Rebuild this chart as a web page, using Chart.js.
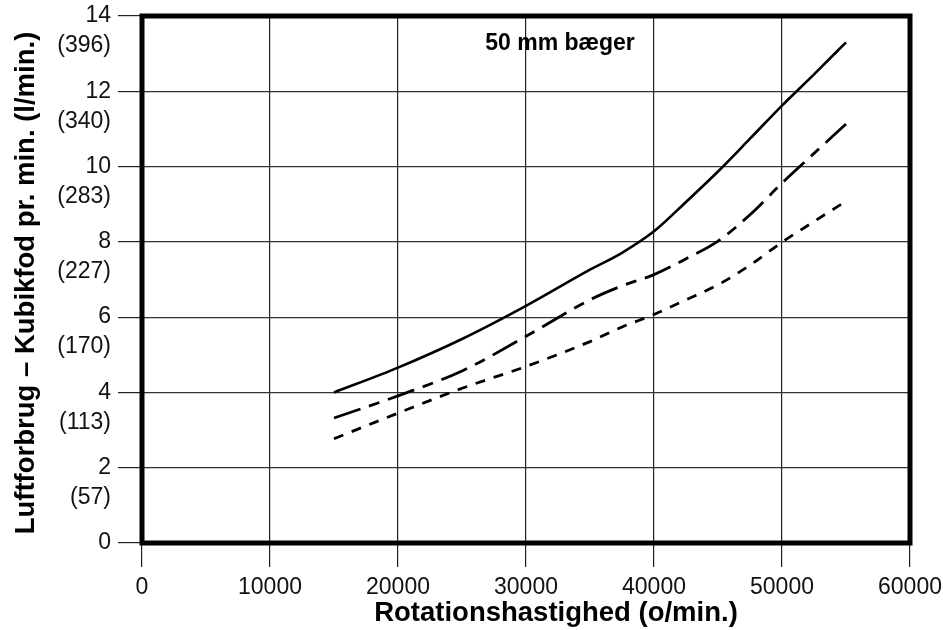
<!DOCTYPE html>
<html>
<head>
<meta charset="utf-8">
<title>Luftforbrug</title>
<script src="https://cdn.jsdelivr.net/npm/chart.js@4"></script>
<style>
  html, body { margin: 0; padding: 0; background: #fff; }
  #wrap { width: 943px; height: 630px; }
</style>
</head>
<body>
<div id="wrap"><canvas id="myChart"></canvas></div>
<script>
// rotationshastighed (o/min.) where the curves were read
const rpm = [15000, 20000, 25000, 30000, 35000, 37500, 40000, 42500, 45000, 47500, 50000, 52500, 55000];

// luftforbrug, kubikfod pr. min.
const solidSeries = [4.0, 4.66, 5.42, 6.30, 7.26, 7.71, 8.28, 9.06, 9.87, 10.74, 11.62, 12.45, 13.3];
const longDashSeries = [3.32, 3.91, 4.57, 5.49, 6.46, 6.83, 7.13, 7.55, 8.02, 8.72, 9.56, 10.35, 11.13];
const shortDashSeries = [2.77, 3.45, 4.11, 4.69, 5.35, 5.74, 6.07, 6.46, 6.86, 7.38, 7.99, 8.54, 9.08];

// y tick labels: kubikfod and (l/min.)
const cfmTicks = [0, 2, 4, 6, 8, 10, 12, 14];
const lpmTicks = ['', '(57)', '(113)', '(170)', '(227)', '(283)', '(340)', '(396)'];

const xTicks = [0, 10000, 20000, 30000, 40000, 50000, 60000];

const FONT = '"Liberation Sans", Arial, Helvetica, sans-serif';

function toPoints(values) {
    return rpm.map((r, i) => ({ x: r, y: values[i] }));
}

const frameAndText = {
    id: 'frameAndText',
    afterDraw(chart) {
        const { ctx, chartArea } = chart;
        ctx.save();
        // heavy frame round the plot
        ctx.strokeStyle = '#000';
        ctx.lineWidth = 5;
        ctx.strokeRect(chartArea.left, chartArea.top, chartArea.right - chartArea.left, chartArea.bottom - chartArea.top);

        ctx.fillStyle = '#000';
        ctx.textAlign = 'center';
        ctx.textBaseline = 'middle';

        // label inside the plot
        ctx.font = 'bold 23px ' + FONT;
        ctx.fillText('50 mm bæger', 560, 44);

        // x axis title (sits right of centre in the original)
        ctx.font = 'bold 27.5px ' + FONT;
        ctx.fillText('Rotationshastighed (o/min.)', 556, 613);

        // y axis title
        ctx.translate(26, 283);
        ctx.rotate(-Math.PI / 2);
        ctx.font = 'bold 27.5px ' + FONT;
        ctx.fillText('Luftforbrug – Kubikfod pr. min. (l/min.)', 0, 0);
        ctx.restore();
    }
};

const config = {
    type: 'line',
    data: {
        datasets: [
            {
                label: 'solid',
                data: toPoints(solidSeries),
                borderColor: '#000',
                borderWidth: 2.6,
                pointRadius: 0,
                cubicInterpolationMode: 'monotone',
                fill: false
            },
            {
                label: 'long dash',
                data: toPoints(longDashSeries),
                borderColor: '#000',
                borderWidth: 2.8,
                borderDash: [28, 9, 11, 9],
                pointRadius: 0,
                cubicInterpolationMode: 'monotone',
                fill: false
            },
            {
                label: 'short dash',
                data: toPoints(shortDashSeries),
                borderColor: '#000',
                borderWidth: 2.8,
                borderDash: [10, 9],
                pointRadius: 0,
                cubicInterpolationMode: 'monotone',
                fill: false
            }
        ]
    },
    options: {
        responsive: true,
        maintainAspectRatio: false,
        animation: false,
        layout: { padding: { top: 16, right: 33, bottom: 0, left: 0 } },
        plugins: {
            legend: { display: false },
            tooltip: { enabled: false }
        },
        scales: {
            x: {
                type: 'linear',
                min: 0,
                max: 60000,
                afterBuildTicks: s => { s.ticks = xTicks.map(v => ({ value: v })); },
                afterFit: s => { s.height = 87; s.paddingLeft = 0; s.paddingRight = 0; },
                border: { display: false },
                grid: { color: '#222', lineWidth: 1.2, tickLength: 24, tickColor: '#222' },
                ticks: {
                    color: '#111',
                    padding: 7,
                    maxRotation: 0,
                    autoSkip: false,
                    font: { family: FONT, size: 23 },
                    callback: v => String(v)
                },
                title: { display: false }
            },
            y: {
                min: 0,
                max: 14,
                afterBuildTicks: s => { s.ticks = cfmTicks.map(v => ({ value: v })); },
                afterFit: s => { s.width = 142; s.paddingTop = 0; s.paddingBottom = 0; },
                border: { display: false },
                grid: { color: '#333', lineWidth: 1.2, tickLength: 24, tickColor: '#222' },
                ticks: {
                    color: '#111',
                    padding: 7,
                    autoSkip: false,
                    font: { family: FONT, size: 23, lineHeight: 1.3 },
                    callback: (v, i) => v === 0 ? '0' : ['', String(v), lpmTicks[cfmTicks.indexOf(v)]]
                }
            }
        }
    },
    plugins: [frameAndText]
};

window.airChart = new Chart(document.getElementById('myChart'), config);
</script>
</body>
</html>
